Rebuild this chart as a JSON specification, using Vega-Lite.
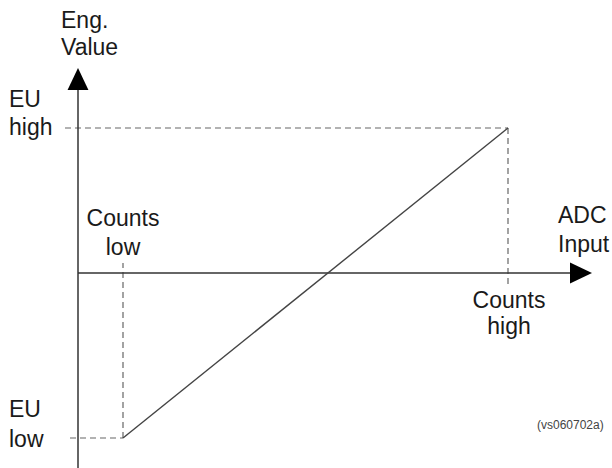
{
  "$schema": "https://vega.github.io/schema/vega-lite/v6.json",
  "width": 612,
  "height": 468,
  "padding": 0,
  "autosize": {"type": "none"},
  "background": "white",
  "config": {"view": {"stroke": null}},
  "datasets": {
    "axes": [
      {"x": 0, "y": -195, "x2": 0, "y2": 187},
      {"x": 0, "y": 0, "x2": 496, "y2": 0}
    ],
    "guides": [
      {"x": -13, "y": 145, "x2": 430, "y2": 145},
      {"x": 430, "y": 145, "x2": 430, "y2": -12},
      {"x": -8, "y": -165, "x2": 45, "y2": -165},
      {"x": 45, "y": -165, "x2": 45, "y2": 10}
    ],
    "transfer": [
      {"x": 45, "y": -165, "x2": 430, "y2": 145}
    ],
    "arrowsUp": [{"x": 0, "y": 194}],
    "arrowsRight": [{"x": 503, "y": 0}],
    "leftLabels": [
      {"x": -17, "y": 245, "label": "Eng."},
      {"x": -17, "y": 218, "label": "Value"},
      {"x": -69, "y": 166, "label": "EU"},
      {"x": -69, "y": 138, "label": "high"},
      {"x": -69, "y": -144, "label": "EU"},
      {"x": -69, "y": -174, "label": "low"},
      {"x": 480, "y": 50, "label": "ADC"},
      {"x": 480, "y": 21, "label": "Input"}
    ],
    "centerLabels": [
      {"x": 45, "y": 47, "label": "Counts"},
      {"x": 45, "y": 18, "label": "low"},
      {"x": 431, "y": -35, "label": "Counts"},
      {"x": 431, "y": -61, "label": "high"}
    ],
    "note": [
      {"x": 459, "y": -156, "label": "(vs060702a)"}
    ]
  },
  "encoding": {
    "x": {"field": "x", "type": "quantitative", "scale": {"domain": [-78, 534], "zero": false, "nice": false}, "axis": null},
    "y": {"field": "y", "type": "quantitative", "scale": {"domain": [-195, 273], "zero": false, "nice": false}, "axis": null}
  },
  "layer": [
    {
      "data": {"name": "guides"},
      "mark": {"type": "rule", "stroke": "#666666", "strokeWidth": 1.2, "strokeDash": [6, 4]},
      "encoding": {"x2": {"field": "x2"}, "y2": {"field": "y2"}}
    },
    {
      "data": {"name": "axes"},
      "mark": {"type": "rule", "stroke": "#333333", "strokeWidth": 1.5},
      "encoding": {"x2": {"field": "x2"}, "y2": {"field": "y2"}}
    },
    {
      "data": {"name": "transfer"},
      "mark": {"type": "rule", "stroke": "#444444", "strokeWidth": 1.4},
      "encoding": {"x2": {"field": "x2"}, "y2": {"field": "y2"}}
    },
    {
      "data": {"name": "arrowsUp"},
      "mark": {"type": "point", "shape": "M0,-1L-0.95,1L0.95,1Z", "filled": true, "fill": "#000000", "stroke": null, "size": 484, "opacity": 1}
    },
    {
      "data": {"name": "arrowsRight"},
      "mark": {"type": "point", "shape": "M1,0L-1,-0.95L-1,0.95Z", "filled": true, "fill": "#000000", "stroke": null, "size": 484, "opacity": 1}
    },
    {
      "data": {"name": "leftLabels"},
      "mark": {"type": "text", "align": "left", "baseline": "alphabetic", "font": "Liberation Sans", "fontSize": 23, "fill": "#1a1a1a"},
      "encoding": {"text": {"field": "label"}}
    },
    {
      "data": {"name": "centerLabels"},
      "mark": {"type": "text", "align": "center", "baseline": "alphabetic", "font": "Liberation Sans", "fontSize": 23, "fill": "#1a1a1a"},
      "encoding": {"text": {"field": "label"}}
    },
    {
      "data": {"name": "note"},
      "mark": {"type": "text", "align": "left", "baseline": "alphabetic", "font": "Liberation Sans", "fontSize": 12, "fill": "#444444"},
      "encoding": {"text": {"field": "label"}}
    }
  ]
}
